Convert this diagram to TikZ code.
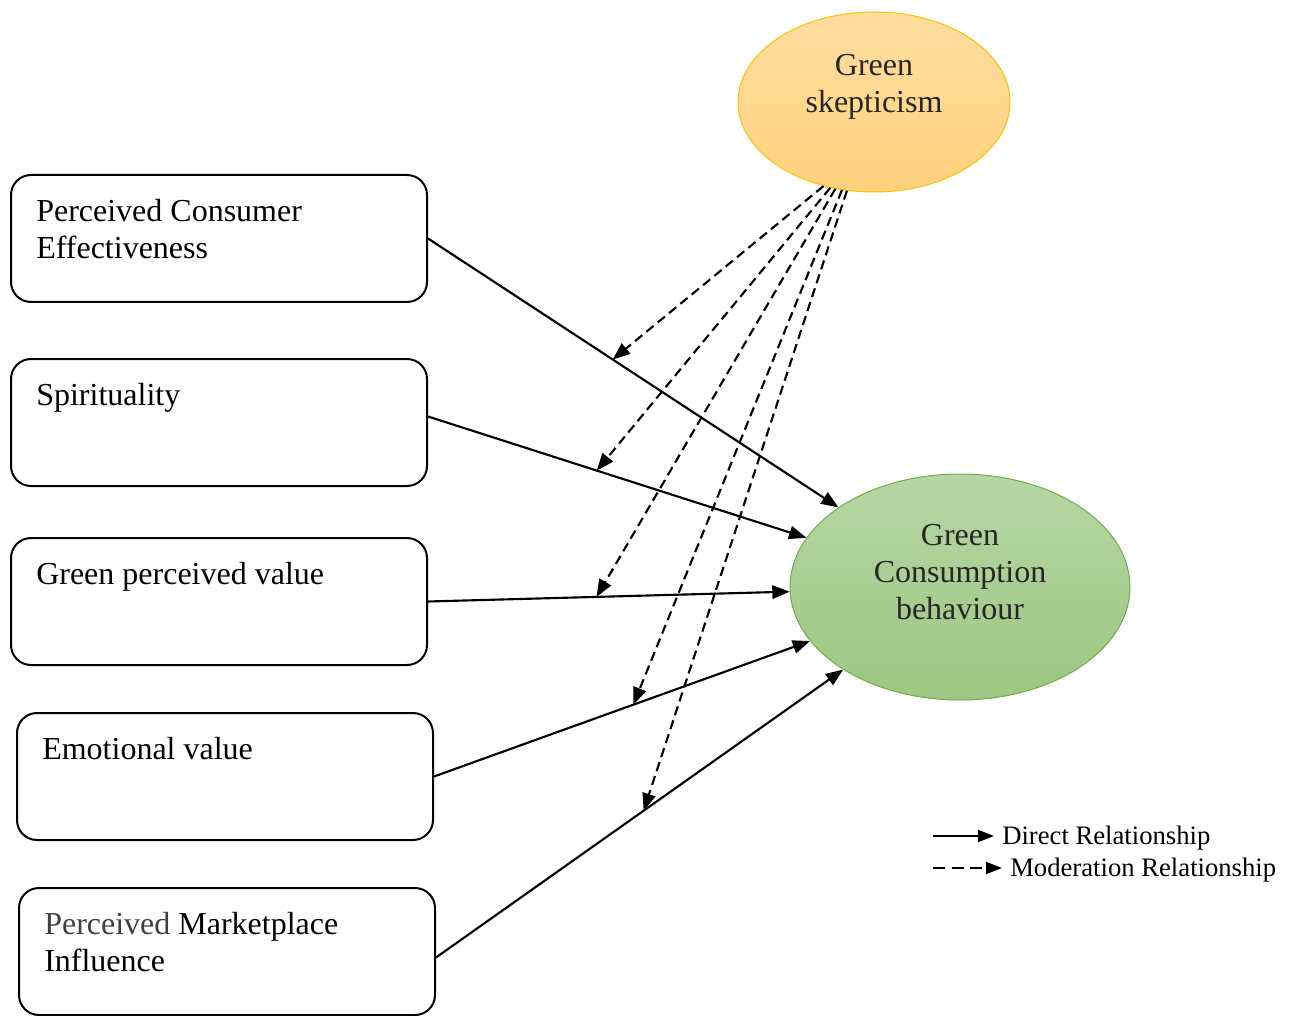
\documentclass[tikz,border=0pt]{standalone}
\usepackage{fontspec}
\setmainfont{Liberation Serif}
\usetikzlibrary{arrows.meta,shapes.geometric}
\definecolor{skepTop}{RGB}{255,222,160}
\definecolor{skepBot}{RGB}{255,209,124}
\definecolor{skepLine}{RGB}{255,192,0}
\definecolor{gcbTop}{RGB}{183,214,165}
\definecolor{gcbBot}{RGB}{155,199,128}
\definecolor{gcbLine}{RGB}{112,173,71}
\definecolor{ellText}{RGB}{38,38,38}
\definecolor{softText}{RGB}{64,64,64}
\tikzset{
  factor/.style={draw, line width=1.5pt, rounded corners=15pt, minimum width=312pt, minimum height=95.25pt, inner sep=0pt},
  factortext/.style={anchor=north west, inner sep=0pt, align=left, font=\fontsize{24}{27.75}\selectfont},
  ellipsetext/.style={inner sep=0pt, align=center, text=ellText, font=\fontsize{24}{27.5}\selectfont},
  direct/.style={line width=1.6pt, -{Triangle[length=13pt,width=10pt]}},
  moderation/.style={line width=1.6pt, dash pattern={on 7pt off 4pt}, -{Triangle[length=13pt,width=10pt]}},
  legendtext/.style={anchor=west, inner sep=0pt, inner xsep=6pt, font=\fontsize{20}{24}\selectfont}
}
\begin{document}
\begin{tikzpicture}[x=0.75pt,y=0.75pt,yscale=-1,xscale=1]
    \useasboundingbox (0,0) rectangle (1292,1016);

    % Ellipses
    \node [ellipse, draw=skepLine, line width=0.75pt, top color=skepTop, bottom color=skepBot, minimum width=204pt, minimum height=135pt, inner sep=0pt] (gs) at (874,102) {};
    \node [ellipse, draw=gcbLine, line width=0.75pt, top color=gcbTop, bottom color=gcbBot, minimum width=255pt, minimum height=169.5pt, inner sep=0pt] (gcb) at (960,587) {};
    % Text Node
    \node [ellipsetext] (gs-t) at (874,87) {Green\\skepticism};
    % Text Node
    \node [ellipsetext] (gcb-t) at (960,572) {Green\\Consumption\\behaviour};

    % Boxes
    \node [factor] (pce) at (219,238.5) {};
    \node [factor] (spi) at (219,422.5) {};
    \node [factor] (gpv) at (219,601.5) {};
    \node [factor] (emo) at (225,776.5) {};
    \node [factor] (pmi) at (227,951.5) {};
    % Text Node
    \node [factortext] (pce-t) at ([shift={(26,25)}]pce.north west) {Perceived Consumer\\Effectiveness};
    % Text Node
    \node [factortext] (spi-t) at ([shift={(26,25)}]spi.north west) {Spirituality};
    % Text Node
    \node [factortext] (gpv-t) at ([shift={(26,25)}]gpv.north west) {Green perceived value};
    % Text Node
    \node [factortext] (emo-t) at ([shift={(26,25)}]emo.north west) {Emotional value};
    % Text Node
    \node [factortext] (pmi-t) at ([shift={(26,25)}]pmi.north west) {\textcolor{softText}{Perceived} Marketplace\\Influence};

    % Direct relationships
    \draw [direct] (pce.east) -- coordinate[pos=0.45] (m1) (gcb);
    \draw [direct] ([shift={(0,-6)}]spi.east) -- coordinate[pos=0.446] (m2) (gcb);
    \draw [direct] (gpv.east) -- coordinate[pos=0.466] (m3) (gcb);
    \draw [direct] (emo.east) -- coordinate[pos=0.53] (m4) (gcb);
    \draw [direct] ([shift={(0,6)}]pmi.east) -- coordinate[pos=0.51] (m5) (gcb);

    % Moderation relationships
    \draw [moderation] (gs.239) -- (m1);
    \draw [moderation] (gs.243) -- (m2);
    \draw [moderation] (gs.246) -- (m3);
    \draw [moderation] (gs.250) -- (m4);
    \draw [moderation] (gs.253) -- (m5);

    % Legend
    \coordinate (ldir-s) at (933,836);
    \coordinate (lmod-s) at (933,868);
    \node [legendtext] (ldir) at (994,838) {Direct Relationship};
    \node [legendtext] (lmod) at (1002,870) {Moderation Relationship};
    \draw [line width=1.6pt, -{Triangle[length=12pt,width=9pt]}] (ldir-s) -- (ldir.west |- ldir-s);
    \draw [line width=1.6pt, dash pattern={on 9pt off 5pt}, -{Triangle[length=12pt,width=9pt]}] (lmod-s) -- (lmod.west |- lmod-s);

\end{tikzpicture}
\end{document}
